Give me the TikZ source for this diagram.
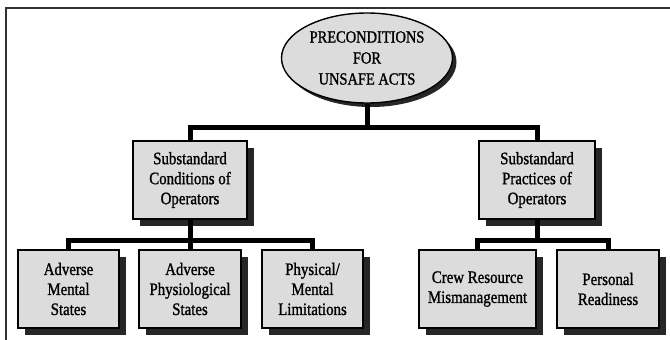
\documentclass[tikz,border=0pt]{standalone}
\usepackage{fontspec}
\setmainfont{Liberation Serif}
\newfontfamily\chartfont[FakeStretch=0.85,FakeBold=1.2]{Liberation Serif}
\usetikzlibrary{shapes.geometric,shadows}
\definecolor{BoxGray}{RGB}{220,220,220}
\definecolor{ShadowGray}{RGB}{38,38,38}
\definecolor{FrameGray}{RGB}{50,50,50}

\begin{document}
\begin{tikzpicture}[x=1pt,y=-1pt,
    catbox/.style={draw=black,fill=BoxGray,line width=1.8pt,minimum height=78pt,inner sep=0pt,
      align=center,font=\chartfont\fontsize{17.5}{20}\selectfont,
      drop shadow={shadow xshift=7pt,shadow yshift=-7pt,fill=ShadowGray,opacity=1}},
    topoval/.style={ellipse,draw=black,fill=BoxGray,line width=1.4pt,minimum width=171pt,
      minimum height=90pt,inner sep=0pt,align=center,font=\chartfont\fontsize{17}{21}\selectfont,
      drop shadow={shadow xshift=4pt,shadow yshift=-4pt,fill=ShadowGray,opacity=1}},
    conn/.style={line width=5pt,line join=miter}]
  \useasboundingbox (0,0) rectangle (670,340);
  % page frame
  \draw[FrameGray,line width=2.2pt] (6,340) -- (6,8) -- (670,8);

  \node[topoval] (pre) at (367,58) {PRECONDITIONS\\FOR\\UNSAFE ACTS};

  \node[catbox,minimum width=114pt] (cond) at (190,180) {Substandard\\Conditions of\\Operators};
  \node[catbox,minimum width=116pt] (prac) at (537,180) {Substandard\\Practices of\\Operators};

  \node[catbox,minimum width=101pt] (mental) at (68.5,289) {Adverse\\Mental\\States};
  \node[catbox,minimum width=102pt] (physio) at (190,289) {Adverse\\Physiological\\States};
  \node[catbox,minimum width=101pt] (limits) at (312.5,289) {Physical/\\Mental\\Limitations};
  \node[catbox,minimum width=117pt] (crew) at (477.5,289) {Crew Resource\\Mismanagement};
  \node[catbox,minimum width=102pt] (ready) at (608,289) {Personal\\Readiness};

  \coordinate (bus0) at (367,127);
  \coordinate (bus1) at (190,240);
  \coordinate (bus2) at (537,240);

  \draw[conn] (pre.south) -- (bus0);
  \draw[conn] (cond.north) |- (bus0) -| (prac.north);
  \draw[conn] (cond.south) -- (bus1);
  \draw[conn] (mental.north) |- (bus1) -| (limits.north);
  \draw[conn] (physio.north) -- (bus1);
  \draw[conn] (prac.south) -- (bus2);
  \draw[conn] (crew.north) |- (bus2) -| (ready.north);
\end{tikzpicture}
\end{document}
